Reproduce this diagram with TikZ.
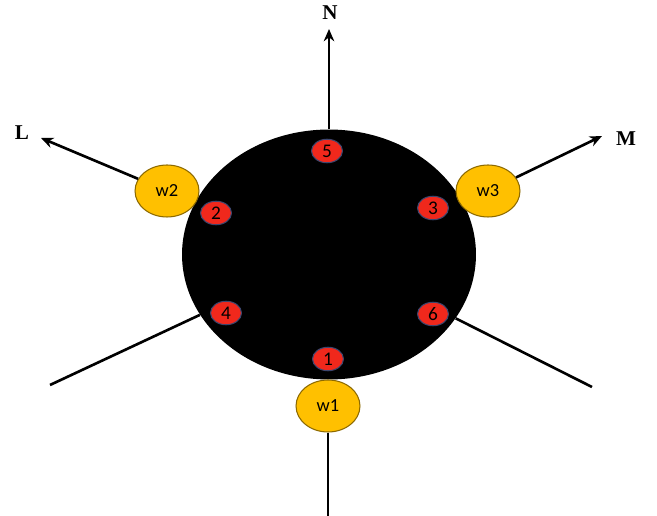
\documentclass[tikz,border=0pt]{standalone}
\usepackage{fontspec}
\setmainfont{Liberation Serif}
\newfontfamily\calib{Carlito}
\usetikzlibrary{shapes.geometric,arrows.meta}
\definecolor{portred}{RGB}{240,40,28}
\definecolor{portedge}{RGB}{60,70,110}
\definecolor{wgold}{RGB}{255,192,0}
\definecolor{wedge}{RGB}{140,105,0}
\begin{document}
\begin{tikzpicture}[x=0.02cm,y=-0.02cm,
  port/.style={ellipse,draw=portedge,line width=0.6pt,fill=portred,minimum width=0.62cm,minimum height=0.47cm,inner sep=0pt,font=\calib\fontsize{11}{12}\selectfont},
  wnode/.style={ellipse,draw=wedge,line width=0.6pt,fill=wgold,minimum width=1.28cm,minimum height=1.04cm,inner sep=0pt,font=\calib\fontsize{10.5}{12}\selectfont},
  axis/.style={line width=1.5pt,-{Stealth[length=7pt,width=6pt]}},
  leg/.style={line width=1.5pt},
  dirlab/.style={font=\bfseries\fontsize{12}{14}\selectfont}]
\useasboundingbox (0,0) rectangle (657,516);
\coordinate (ntip) at (329,29);
\coordinate (ltip) at (41,138);
\coordinate (mtip) at (602,136);
\coordinate (swend) at (50,385);
\coordinate (seend) at (592,387);
\coordinate (send) at (328,516);
\node[ellipse,fill=black,minimum width=5.88cm,minimum height=5cm,inner sep=0pt] (body) at (329,254.5) {};
\node[wnode] (w1) at (328,406) {w1};
\node[wnode] (w2) at (167,191) {w2};
\node[wnode] (w3) at (488,191) {w3};
\node[port] (p1) at (328,359) {1};
\node[port] (p2) at (216,213) {2};
\node[port] (p3) at (433,208) {3};
\node[port] (p4) at (226,313) {4};
\node[port] (p5) at (327,151) {5};
\node[port] (p6) at (433,314) {6};
\draw[axis] (body.north) -- (ntip);
\draw[axis] (w2) -- (ltip);
\draw[axis] (w3) -- (mtip);
\draw[leg] (body) -- (swend);
\draw[leg] (body) -- (seend);
\draw[leg] (w1.south) -- (send);
\node[dirlab] (nlab) at (330,13) {N};
\node[dirlab] (llab) at (22,133) {L};
\node[dirlab] (mlab) at (626,139) {M};
\end{tikzpicture}
\end{document}
